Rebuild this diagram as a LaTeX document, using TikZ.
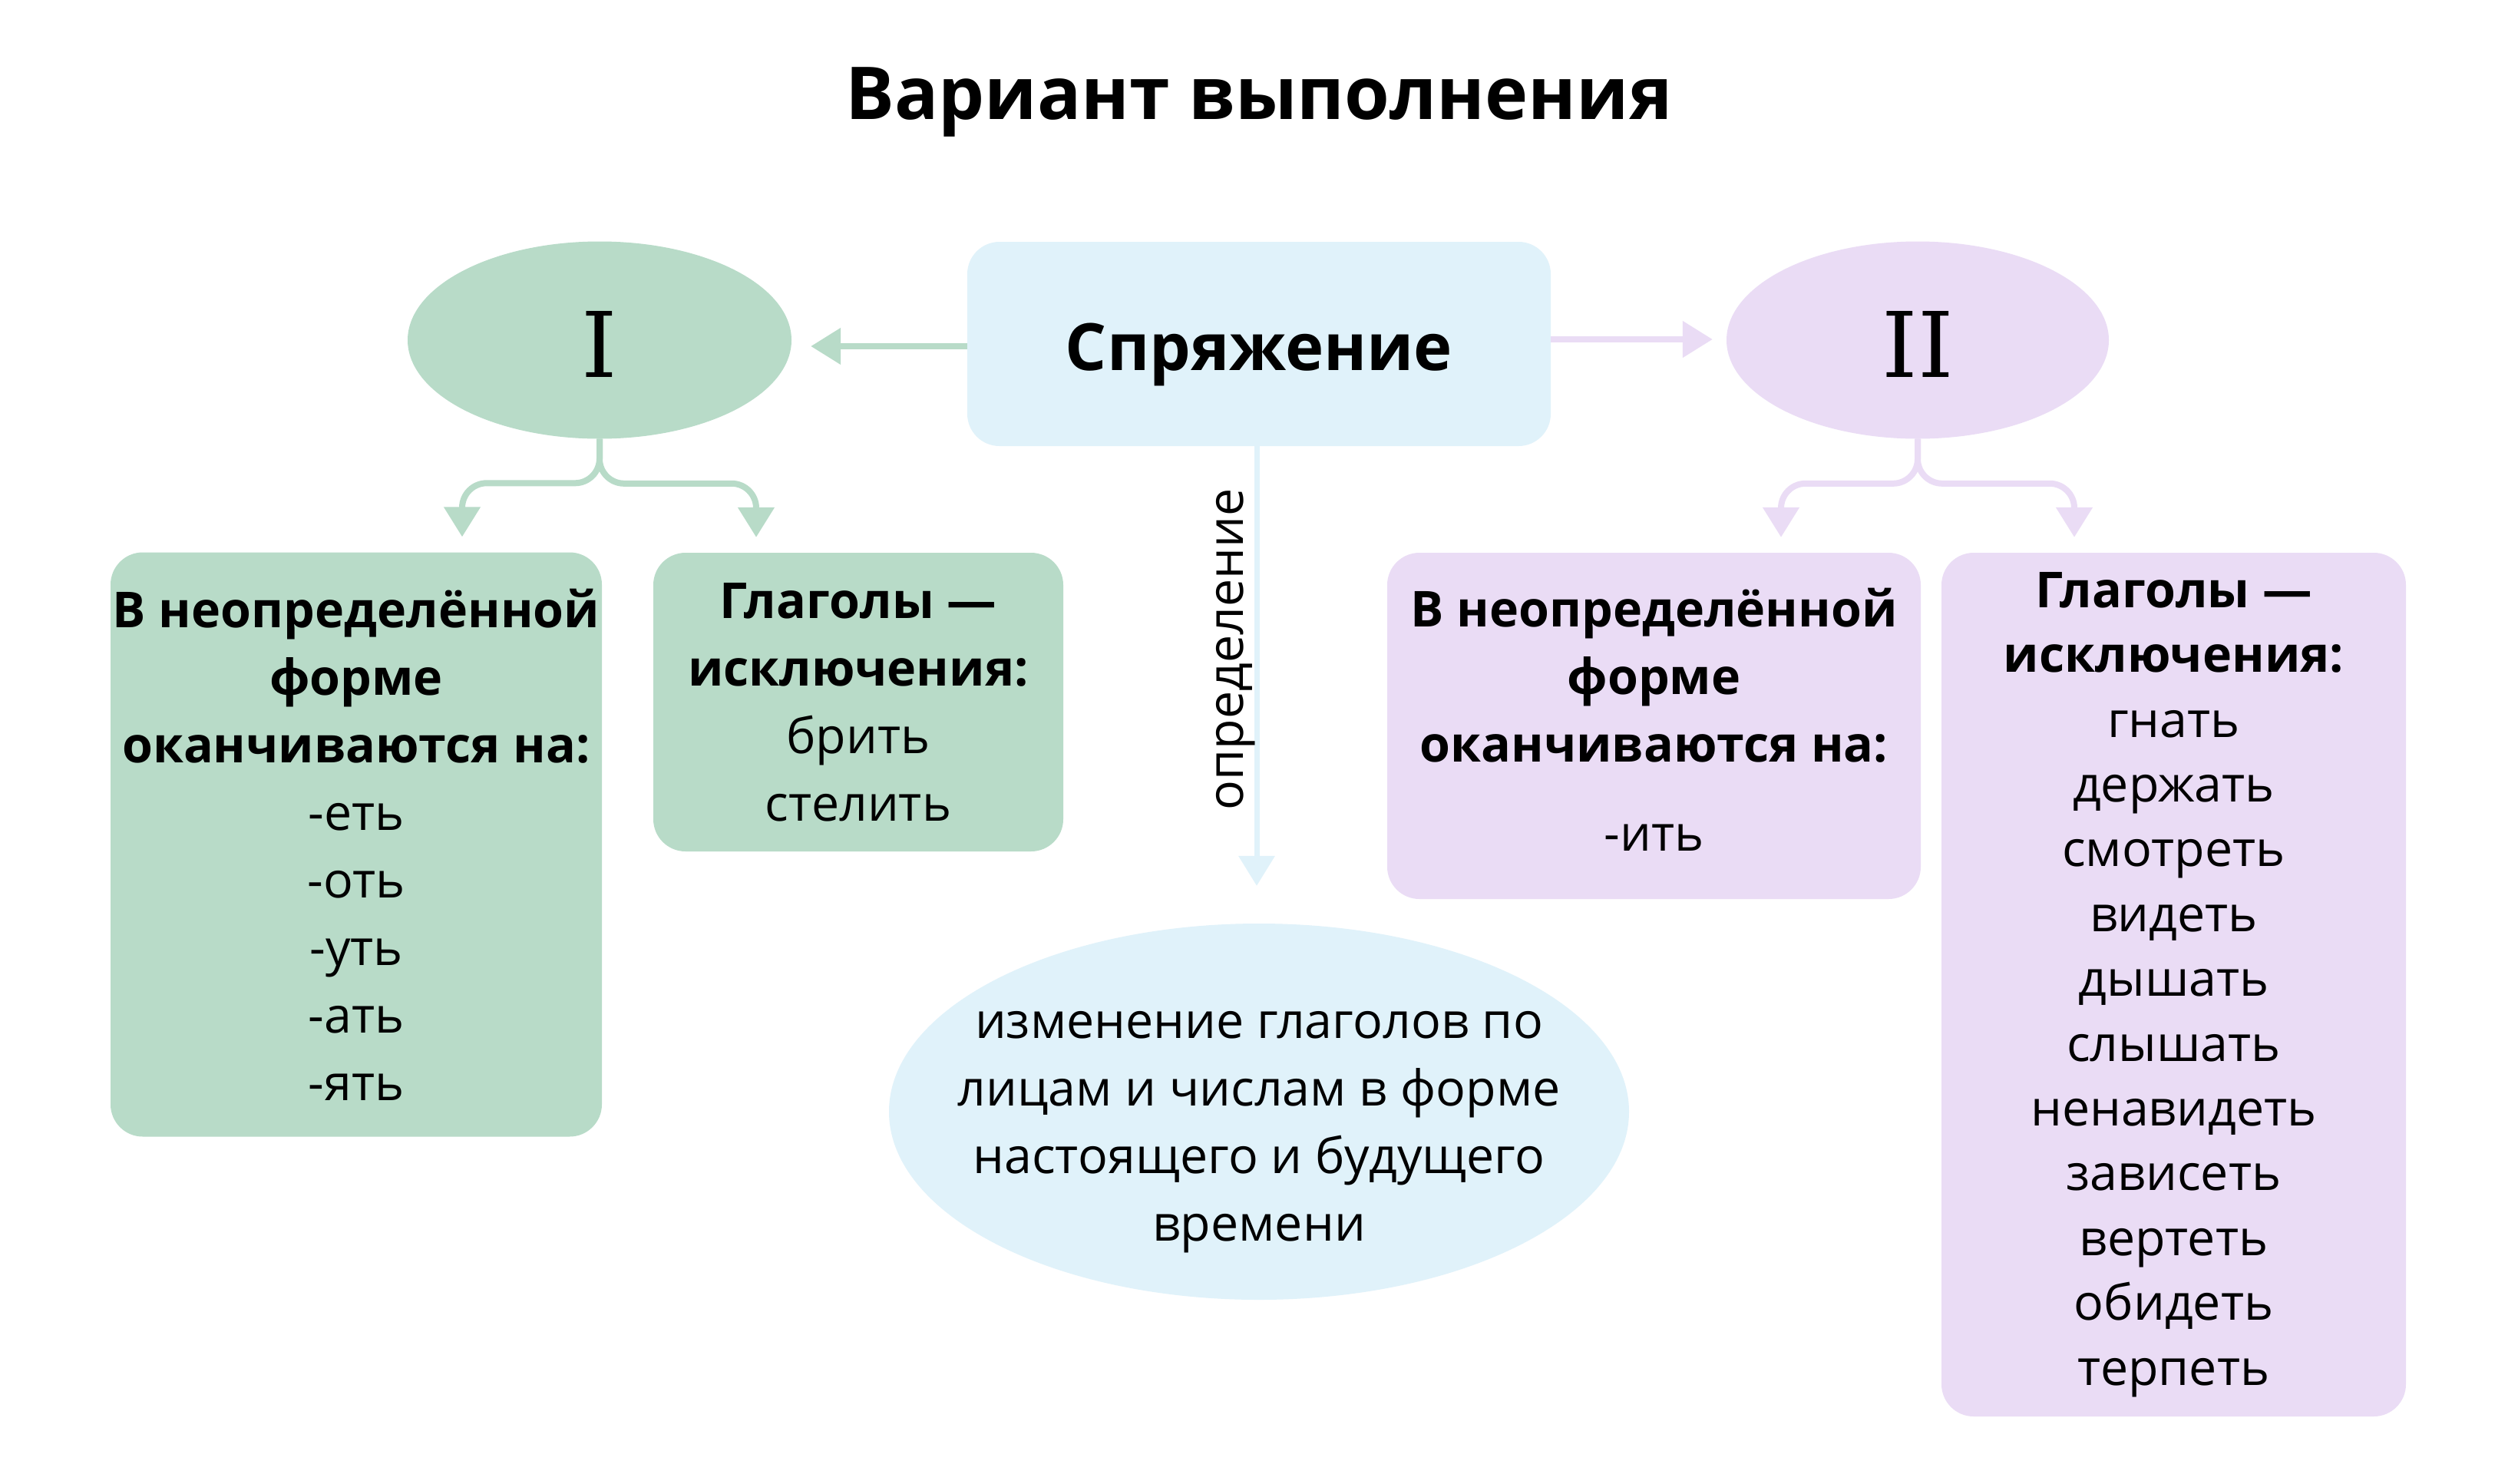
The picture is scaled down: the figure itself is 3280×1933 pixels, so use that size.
\documentclass[tikz,border=0pt]{standalone}
\usepackage{fontspec}
\setmainfont{Open Sans}
\newfontfamily\romfont{DejaVu Serif}
\usetikzlibrary{arrows.meta,shapes.geometric}
\definecolor{grn}{RGB}{184,219,200}
\definecolor{vio}{RGB}{234,220,245}
\definecolor{blu}{RGB}{224,242,250}
\begin{document}
\begin{tikzpicture}[x=1pt,y=-1pt,
  box/.style={rounded corners=42pt, inner sep=0pt, align=center, font=\fontsize{64.5}{88}\selectfont},
  oval/.style={ellipse, inner sep=0pt},
  arr/.style={line width=8pt, -{Triangle[width=46pt,length=39pt]}},
  garr/.style={arr, draw=grn},
  varr/.style={arr, draw=vio},
  barr/.style={arr, line width=7pt, draw=blu},
  lbl/.style={inner sep=0pt, font=\fontsize{64.5}{88}\selectfont}]
\useasboundingbox (0,0) rectangle (3280,1933);
\fill[white] (0,0) rectangle (3280,1933);

\node[inner sep=0pt, anchor=base, font=\fontsize{95}{110}\selectfont\bfseries] (title) at (1640,155) {Вариант выполнения};

\node[box, fill=blu, minimum width=760pt, minimum height=266pt] (s) at (1640,448) {};
\node[inner sep=0pt, anchor=base, font=\fontsize{85}{100}\selectfont\bfseries] (st) at (1640,482) {Спряжение};

\node[oval, fill=grn, minimum width=500pt, minimum height=257pt] (e1) at (781,443) {};
\node[inner sep=0pt, anchor=base, font=\fontsize{118}{120}\romfont] (r1) at (781,491) {I};
\node[oval, fill=vio, minimum width=498pt, minimum height=257pt] (e2) at (2498,443) {};
\node[inner sep=0pt, anchor=base, font=\fontsize{118}{120}\romfont] (r2) at (2498,491) {II};

\node[box, fill=grn, minimum width=640pt, minimum height=761pt] (b1) at (464,1100)
  {\textbf{В неопределённой}\\\textbf{форме}\\\textbf{оканчиваются на:}\\-еть\\-оть\\-уть\\-ать\\-ять};
\node[box, fill=grn, minimum width=534pt, minimum height=389pt] (b2) at (1118,914.5)
  {\textbf{Глаголы —}\\\textbf{исключения:}\\брить\\стелить};
\node[box, fill=vio, minimum width=695pt, minimum height=451pt] (b3) at (2154.5,945.5) {};
\node[inner sep=0pt, align=center, font=\fontsize{64.5}{88}\selectfont] (t3) at (2154.5,937.5)
  {\textbf{В неопределённой}\\\textbf{форме}\\\textbf{оканчиваются на:}\\[28pt]-ить};
\node[box, fill=vio, minimum width=605pt, minimum height=1125pt, font=\fontsize{64.5}{84.4}\selectfont] (b4) at (2831.5,1282.5)
  {\textbf{Глаголы —}\\\textbf{исключения:}\\гнать\\держать\\смотреть\\видеть\\дышать\\слышать\\ненавидеть\\зависеть\\вертеть\\обидеть\\терпеть};

\node[oval, fill=blu, minimum width=964pt, minimum height=490pt] (e3) at (1640,1448) {};
\node[inner sep=0pt, align=center, font=\fontsize{64.5}{88}\selectfont] (t5) at (1640,1475)
  {изменение глаголов по\\лицам и числам в форме\\настоящего и будущего\\времени};

\draw[garr] ([yshift=-3pt]s.west) -- ([xshift=25pt,yshift=-8pt]e1.east);
\draw[varr] ([yshift=6pt]s.east) -- ([xshift=-18pt,yshift=1pt]e2.west);
\draw[barr] ([xshift=-3pt]s.south) -- ([xshift=-3pt,yshift=49pt]e3.north);
\node[lbl, rotate=90, anchor=base] (def) at (1619,846) {определение};

\draw[garr, rounded corners=32pt] (e1.south) |- ([xshift=138pt,yshift=90pt]b1.north) -- ([xshift=138pt,yshift=20pt]b1.north);
\draw[garr, rounded corners=32pt] (e1.south) |- ([xshift=-133pt,yshift=90pt]b2.north) -- ([xshift=-133pt,yshift=20pt]b2.north);
\draw[varr, rounded corners=32pt] (e2.south) |- ([xshift=165.5pt,yshift=90pt]b3.north) -- ([xshift=165.5pt,yshift=20pt]b3.north);
\draw[varr, rounded corners=32pt] (e2.south) |- ([xshift=-129.5pt,yshift=90pt]b4.north) -- ([xshift=-129.5pt,yshift=20pt]b4.north);
\end{tikzpicture}
\end{document}
